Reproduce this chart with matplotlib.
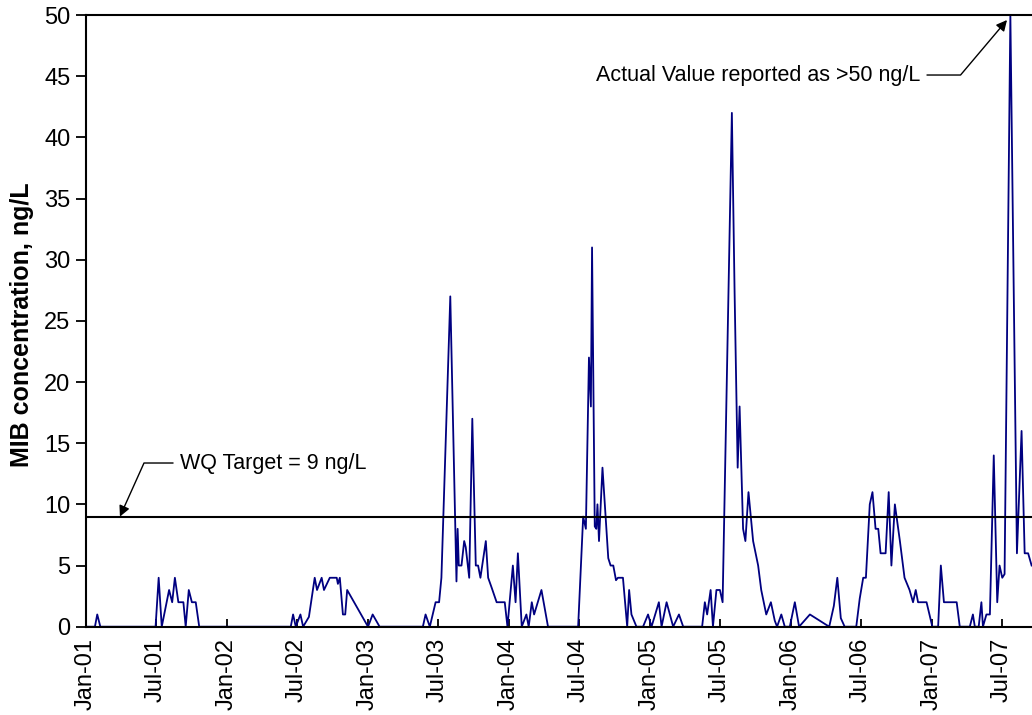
import matplotlib
matplotlib.use("Agg")
import matplotlib.pyplot as plt
import matplotlib.dates as mdates
import numpy as np

plt.rcParams["font.family"] = ["Liberation Sans", "DejaVu Sans"]

# MIB sampling record, 2001 - 2007
sample_dates = [
    "2001-01-01", "2001-01-25", "2001-01-31", "2001-02-08", "2001-07-01", "2001-07-09",
    "2001-07-17", "2001-08-05", "2001-08-13", "2001-08-20", "2001-08-29", "2001-09-11",
    "2001-09-17", "2001-09-25", "2001-10-03", "2001-10-13", "2001-10-22",
    "2002-06-16", "2002-06-22", "2002-06-29", "2002-07-11", "2002-07-18", "2002-08-02",
    "2002-08-17", "2002-08-23", "2002-09-04", "2002-09-10", "2002-09-25", "2002-10-13",
    "2002-10-16", "2002-10-21", "2002-10-29", "2002-11-04", "2002-11-09",
    "2003-01-02", "2003-01-14", "2003-02-01", "2003-05-24", "2003-05-31", "2003-06-11",
    "2003-06-26", "2003-07-05", "2003-07-11", "2003-08-03", "2003-08-19", "2003-08-22",
    "2003-08-25", "2003-09-01", "2003-09-08", "2003-09-12", "2003-09-21", "2003-09-29",
    "2003-10-08", "2003-10-14", "2003-10-20", "2003-11-03", "2003-11-09", "2003-11-18",
    "2003-12-01", "2003-12-22", "2003-12-29",
    "2004-01-12", "2004-01-19", "2004-01-25", "2004-02-04", "2004-02-16", "2004-02-22",
    "2004-03-01", "2004-03-07", "2004-03-26", "2004-04-12", "2004-06-29", "2004-07-12",
    "2004-07-19", "2004-07-27", "2004-08-01", "2004-08-04", "2004-08-11", "2004-08-15",
    "2004-08-18", "2004-08-22", "2004-08-31", "2004-09-15", "2004-09-21", "2004-09-28",
    "2004-10-05", "2004-10-10", "2004-10-23", "2004-11-03", "2004-11-08", "2004-11-14",
    "2004-11-27", "2004-12-14", "2004-12-27",
    "2005-01-05", "2005-01-24", "2005-01-31", "2005-02-13", "2005-03-02", "2005-03-17",
    "2005-03-28", "2005-05-16", "2005-05-23", "2005-05-29", "2005-06-07", "2005-06-13",
    "2005-06-22", "2005-07-01", "2005-07-08", "2005-08-01", "2005-08-08", "2005-08-16",
    "2005-08-21", "2005-08-30", "2005-09-05", "2005-09-13", "2005-09-25", "2005-10-08",
    "2005-10-16", "2005-10-29", "2005-11-10", "2005-11-20", "2005-11-26", "2005-12-07",
    "2005-12-16", "2005-12-29",
    "2006-01-11", "2006-01-22", "2006-02-19", "2006-04-10", "2006-04-22", "2006-05-01",
    "2006-05-10", "2006-05-20", "2006-06-19", "2006-06-28", "2006-07-07", "2006-07-14",
    "2006-07-24", "2006-07-31", "2006-08-08", "2006-08-15", "2006-08-21", "2006-09-03",
    "2006-09-11", "2006-09-18", "2006-09-27", "2006-10-10", "2006-10-22", "2006-11-04",
    "2006-11-13", "2006-11-20", "2006-11-26", "2006-12-18",
    "2007-01-02", "2007-01-17", "2007-01-24", "2007-02-01", "2007-03-06", "2007-03-14",
    "2007-04-09", "2007-04-17", "2007-04-22", "2007-05-02", "2007-05-09", "2007-05-13",
    "2007-05-22", "2007-05-31", "2007-06-10", "2007-06-19", "2007-06-25", "2007-07-02",
    "2007-07-08", "2007-07-23", "2007-08-09", "2007-08-21", "2007-08-29", "2007-09-07",
    "2007-09-16",
]

mib_ng_per_l = [
    0, 0, 1, 0, 0, 4,
    0, 3, 2, 4, 2, 2,
    0, 3, 2, 2, 0,
    0, 1, 0, 1, 0, 0.8,
    4, 3, 4, 3, 4, 4,
    3.5, 4, 1, 1, 3,
    0, 1, 0, 0, 1, 0,
    2, 2, 4, 27, 3.7, 8,
    5, 5, 7, 6.5, 4, 17,
    5, 5, 4, 7, 4, 3.2,
    2, 2, 0,
    5, 2, 6, 0, 1, 0,
    2, 1, 3, 0, 0, 9,
    8, 22, 18, 31, 8.2, 8,
    10, 7, 13, 5.6, 5, 5,
    3.8, 4, 4, 0, 3, 1,
    0, 0, 1,
    0, 2, 0, 2, 0, 1,
    0, 0, 2, 1, 3, 0,
    3, 3, 2, 42, 27.4, 13,
    18, 8, 7, 11, 7, 5,
    3, 1, 2, 0.5, 0, 1,
    0, 0,
    2, 0, 1, 0, 1.7, 4,
    0.7, 0, 0, 2.3, 4, 4,
    10, 11, 8, 8, 6, 6,
    11, 5, 10, 7, 4, 3,
    2, 3, 2, 2,
    0, 0, 5, 2, 2, 0,
    0, 1, 0, 0, 2, 0,
    1, 1, 14, 2, 5, 4,
    4.3, 50, 6, 16, 6, 6,
    5,
]

wq_target = 9

dates = np.array(sample_dates, dtype="datetime64[D]")

fig = plt.figure(figsize=(10.32, 7.15), dpi=100)
ax = fig.add_axes([0.083, 0.1235, 0.917, 0.8555])

ax.plot(dates, mib_ng_per_l, color="#000080", lw=1.3, solid_joinstyle="round")
ax.axhline(wq_target, color="black", lw=1.5)

ax.set_xlim(np.datetime64("2001-01-01"), np.datetime64("2007-09-17"))
ax.set_ylim(0, 50)
ax.set_yticks(range(0, 51, 5))

ax.xaxis.set_major_locator(mdates.MonthLocator(bymonth=[1, 7]))
ax.xaxis.set_major_formatter(mdates.DateFormatter("%b-%y"))
ax.tick_params(axis="x", direction="in", length=6, width=1.3, pad=8,
               labelsize=17, labelrotation=90)
ax.tick_params(axis="y", direction="out", length=7, width=1.3, pad=4, labelsize=17)

for side in ("left", "bottom", "top"):
    ax.spines[side].set_linewidth(1.5)
ax.spines["right"].set_visible(False)

fig.text(22 / 1032, 1 - 324.5 / 715, "MIB concentration, ng/L", rotation=90,
         ha="center", va="center", fontsize=18, fontweight="bold")

arrow = dict(arrowstyle="-|>", color="black", lw=1.0, mutation_scale=16,
             shrinkA=3, shrinkB=0)

ax.annotate("WQ Target = 9 ng/L", xy=(0.0362, wq_target),
            xycoords=("axes fraction", "data"),
            xytext=(0.0997, 0.2676), textcoords="axes fraction",
            ha="left", va="center", fontsize=15.5,
            arrowprops=dict(arrow, connectionstyle="angle,angleA=0,angleB=65.8,rad=0"))

ax.annotate("Actual Value reported as >50 ng/L", xy=(0.9736, 0.9918),
            xycoords="axes fraction",
            xytext=(0.8817, 0.9019), textcoords="axes fraction",
            ha="right", va="center", fontsize=15.5,
            arrowprops=dict(arrow, connectionstyle="angle,angleA=0,angleB=49.8,rad=0"))

fig.savefig("out.png", dpi=100)
